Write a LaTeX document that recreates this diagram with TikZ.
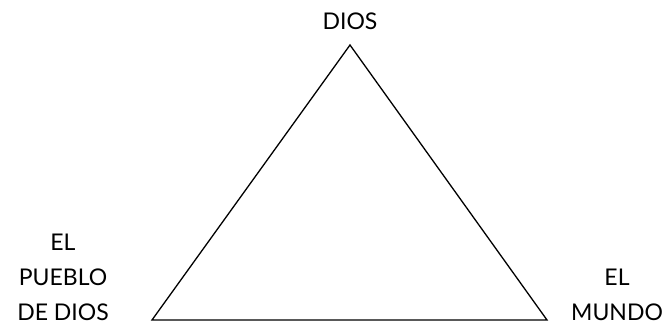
\documentclass[tikz,border=0pt]{standalone}
\usepackage{fontspec}
\setmainfont{Lato}
\begin{document}
\begin{tikzpicture}[
    x=1pt, y=-1pt,
    label/.style={
        inner sep=0pt, align=center, anchor=base,
        font=\fontsize{23}{35}\selectfont
    },
    side/.style={line width=1.3pt, line join=miter}
]
    \useasboundingbox (0,0) rectangle (669,324);

    % --- corners of the triangle ---
    \coordinate (top) at (350,45);
    \coordinate (left) at (152,320);
    \coordinate (right) at (547,320);

    \draw[side] (top) -- (left) -- (right) -- cycle;

    % --- labels ---
    \node[label] (dios) at (350,29) {DIOS};
    \node[label] (pueblo) at (63,320) {EL\\PUEBLO\\DE DIOS};
    \node[label] (mundo) at (617,320) {EL\\MUNDO};
\end{tikzpicture}
\end{document}
